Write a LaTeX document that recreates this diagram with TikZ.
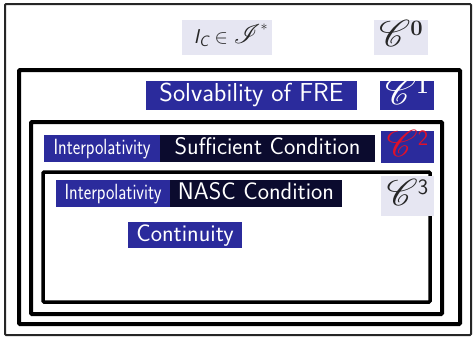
\documentclass[tikz,border=0pt]{standalone}
\usepackage{fix-cm}
\usepackage{fontspec}
\usepackage{mathrsfs}
\definecolor{bblue}{HTML}{2B2B9C}
\definecolor{bdark}{HTML}{0B0B2E}
\definecolor{blight}{HTML}{E6E6F2}
\definecolor{cred}{HTML}{E0102A}
\newcommand{\scrC}[1]{{\fontsize{23}{24}\selectfont\raisebox{-3pt}{\scalebox{1.5}{$\mathscr{C}$}}\raisebox{8pt}{\fontsize{22}{22}\selectfont #1}}}
\begin{document}
\begin{tikzpicture}[x=1pt,y=-1pt,
  frame/.style={draw=black,rounded corners=1pt},
  lbl/.style={inner sep=0pt,font=\sffamily\fontsize{24}{26}\selectfont,text height=17pt,text depth=5pt},
  blu/.style={lbl,fill=bblue,text=white},
  drk/.style={lbl,fill=bdark,text=white},
  lgt/.style={lbl,fill=blight,text=black!85}]
\useasboundingbox (0,0) rectangle (475,338);
\fill[white] (0,0) rectangle (475,338);
% frames
\draw[frame,line width=2pt,draw=black!85] (5,4) rectangle (471,335);
\draw[frame,line width=4pt] (19,70) rectangle (460,324);
\draw[frame,line width=4pt] (31,122) rectangle (442,314);
\draw[frame,line width=3.5pt] (43,172) rectangle (430,302);
% labels
\node[lgt,minimum width=90pt,minimum height=35pt] (ic) at (227,37.5)
  {\hspace*{8pt}\fontsize{20}{22}\selectfont{\itshape I}\raisebox{-0.35ex}{\fontsize{15}{15}\selectfont\itshape C}\ $\in\mathord{\scalebox{1.3}{$\mathscr{I}$}}^{*}$};
\node[lgt,minimum width=54pt,minimum height=35pt] (c0) at (401,37.5)
  {\scrC{\rmfamily\bfseries 0}};
\node[blu,font=\sffamily\fontsize{26}{28}\selectfont,minimum width=211pt,minimum height=29pt] (solv) at (251.5,95.5)
  {Solvability of FRE};
\node[blu,minimum width=54pt,minimum height=29pt] (c1) at (407,95.5)
  {\scrC{\rmfamily\bfseries 1}};
\node[blu,minimum width=116pt,minimum height=27pt] (int1) at (102,148.5)
  {\scalebox{0.81}[1]{\fontsize{22}{24}\selectfont Interpolativity}};
\node[drk,minimum width=215pt,minimum height=27pt] (suff) at (267.5,148.5)
  {Sufficient Condition};
\node[blu,text=cred,minimum width=53pt,minimum height=32pt] (c2) at (407.5,147)
  {\scrC{2}};
\node[blu,minimum width=114pt,minimum height=27pt] (int2) at (113,193.5)
  {\scalebox{0.81}[1]{\fontsize{22}{24}\selectfont Interpolativity}};
\node[drk,minimum width=172pt,minimum height=27pt] (nasc) at (256,193.5)
  {NASC Condition};
\node[lgt,minimum width=53pt,minimum height=40pt] (c3) at (407.5,196)
  {\scrC{3}};
\node[blu,minimum width=114pt,minimum height=26pt] (cont) at (185,235)
  {Continuity};
\end{tikzpicture}
\end{document}
